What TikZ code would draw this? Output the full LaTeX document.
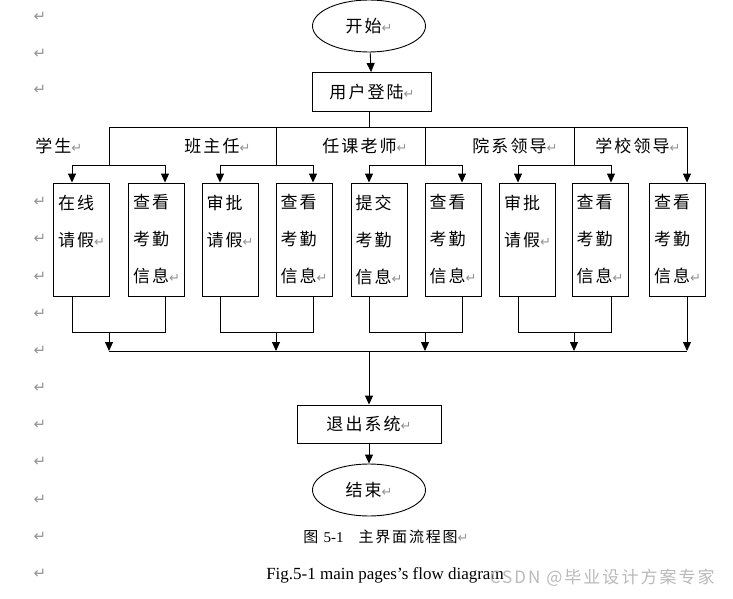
\documentclass[tikz,border=0pt]{standalone}
\usepackage{fontspec}
\setmainfont{Liberation Serif}
\newfontfamily\cjk[LetterSpace=12]{Noto Sans CJK SC}
\newfontfamily\retfont{DejaVu Sans}
\usetikzlibrary{arrows.meta,shapes.geometric}
\newcommand{\ret}{{\retfont\fontsize{13}{13}\selectfont\textcolor{gray!85}{↵}}}

\begin{document}
\begin{tikzpicture}[x=1pt, y=-1pt, line width=0.9pt,
  >={Triangle[length=9pt,width=8pt]},
  main/.style = {draw, rectangle, font=\cjk\fontsize{17}{20}\selectfont},
  term/.style = {draw, ellipse, minimum width=113pt, minimum height=52pt, font=\cjk\fontsize{17}{20}\selectfont},
  task/.style = {draw, rectangle, align=left, minimum width=56pt, minimum height=113pt, inner sep=0pt, font=\cjk\fontsize{17}{37}\selectfont},
  role/.style = {anchor=west, inner sep=1pt, font=\cjk\fontsize{17}{20}\selectfont},
  retmark/.style = {inner sep=0pt, text=gray!85, font=\retfont\fontsize{15}{15}\selectfont}]
\useasboundingbox (0,0) rectangle (733,599);

% margin marks
\node[retmark] (r1) at (40,17) {↵};
\node[retmark] (r2) at (40,54) {↵};
\node[retmark] (r3) at (40,90) {↵};
\node[retmark] (r4) at (40,202) {↵};
\node[retmark] (r5) at (40,239) {↵};
\node[retmark] (r6) at (40,277) {↵};
\node[retmark] (r7) at (40,314) {↵};
\node[retmark] (r8) at (40,351) {↵};
\node[retmark] (r9) at (40,388) {↵};
\node[retmark] (r10) at (40,425) {↵};
\node[retmark] (r11) at (40,462) {↵};
\node[retmark] (r12) at (40,500) {↵};
\node[retmark] (r13) at (40,537) {↵};
\node[retmark] (r14) at (40,574) {↵};

\node[term] (1) at (369,26) {开始\ret};
\node[main, minimum width=119pt, minimum height=39pt] (2) at (372,92) {用户登陆\ret};

% roles
\node[role] (l1) at (34,146) {学生\ret};
\node[role] (l2) at (183,146) {班主任\ret};
\node[role] (l3) at (321,146) {任课老师\ret};
\node[role] (l4) at (471,146) {院系领导\ret};
\node[role] (l5) at (594,146) {学校领导\ret};

% functions
\node[task] (3) at (81.5,239.5) {在线\\请假\ret\\\mbox{}};
\node[task] (4) at (156.5,239.5) {查看\\考勤\\信息\ret};
\node[task] (5) at (230,239.5) {审批\\请假\ret\\\mbox{}};
\node[task] (6) at (304,239.5) {查看\\考勤\\信息\ret};
\node[task] (7) at (379,239.5) {提交\\考勤\\信息\ret};
\node[task] (8) at (453,239.5) {查看\\考勤\\信息\ret};
\node[task] (9) at (527.5,239.5) {审批\\请假\ret\\\mbox{}};
\node[task] (10) at (600,239.5) {查看\\考勤\\信息\ret};
\node[task] (11) at (677.5,239.5) {查看\\考勤\\信息\ret};

\node[main, minimum width=144pt, minimum height=38pt] (12) at (369,424) {退出系统\ret};
\node[term] (13) at (369,490) {结束\ret};

\node[font=\cjk\fontsize{15}{15}\selectfont] (c1) at (386,537) {图 {\rmfamily 5-1}\quad 主界面流程图\ret};
\node[font=\fontsize{17}{17}\selectfont] (c2) at (385,575) {Fig.5-1 main pages’s flow diagram};
\node[anchor=west, text=gray!55, font=\cjk\fontsize{17}{17}\selectfont] (w) at (486,578) {CSDN @毕业设计方案专家};

% junctions
\coordinate (t) at (369,127);
\coordinate (t1) at (109,127);
\coordinate (t2) at (276,127);
\coordinate (t3) at (425,127);
\coordinate (t4) at (574,127);
\coordinate (t5) at (687,127);
\coordinate (g1) at (109,165);
\coordinate (g2) at (276,165);
\coordinate (g3) at (425,165);
\coordinate (g4) at (574,165);
\coordinate (h1) at (109,332);
\coordinate (h2) at (276,332);
\coordinate (h3) at (425,332);
\coordinate (h4) at (574,332);
\coordinate (m1) at (109,351);
\coordinate (m2) at (276,351);
\coordinate (m3) at (425,351);
\coordinate (m4) at (574,351);
\coordinate (m5) at (687,351);
\coordinate (m) at (369,351);

\draw[->] (1) -- (2);
\draw (2.south -| t) -- (t);
\draw (t1) -- (t5);
\draw (t1) -- (g1);
\draw (t2) -- (g2);
\draw (t3) -- (g3);
\draw (t4) -- (g4);
\draw[->] (g1) -| ([xshift=-9.5pt]3.north);
\draw[->] (g1) -| ([xshift=8.5pt]4.north);
\draw[->] (g2) -| ([xshift=-10pt]5.north);
\draw[->] (g2) -| ([xshift=9pt]6.north);
\draw[->] (g3) -| ([xshift=-10pt]7.north);
\draw[->] (g3) -| ([xshift=9pt]8.north);
\draw[->] (g4) -| ([xshift=-9.5pt]9.north);
\draw[->] (g4) -| ([xshift=11pt]10.north);
\draw[->] (t5) -- (11.north -| t5);

\draw ([xshift=-9.5pt]3.south) |- (h1);
\draw ([xshift=8.5pt]4.south) |- (h1);
\draw ([xshift=-10pt]5.south) |- (h2);
\draw ([xshift=9pt]6.south) |- (h2);
\draw ([xshift=-10pt]7.south) |- (h3);
\draw ([xshift=9pt]8.south) |- (h3);
\draw ([xshift=-9.5pt]9.south) |- (h4);
\draw ([xshift=11pt]10.south) |- (h4);
\draw[->] (h1) -- (m1);
\draw[->] (h2) -- (m2);
\draw[->] (h3) -- (m3);
\draw[->] (h4) -- (m4);
\draw[->] (11.south -| m5) -- (m5);
\draw (m1) -- (m5);
\draw[->] (m) -- (12);
\draw[->] (12) -- (13);
\end{tikzpicture}
\end{document}
